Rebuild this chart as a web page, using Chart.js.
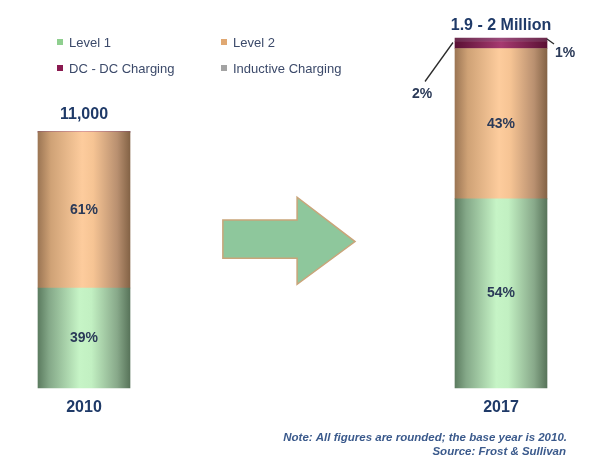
<!DOCTYPE html>
<html>
<head>
<meta charset="utf-8">
<script src="https://cdn.jsdelivr.net/npm/chart.js@4.4.1/dist/chart.umd.min.js"></script>
<style>
  html, body { margin: 0; padding: 0; background: #ffffff; }
  #wrap { width: 600px; height: 472px; position: relative; }
</style>
</head>
<body>
<div id="wrap"><canvas id="c" width="600" height="472"></canvas></div>
<script>
// ---- data ----
const categories = ['2010', '2017'];
const seriesNames = ['Level 1', 'Level 2', 'DC - DC Charging', 'Inductive Charging'];
const share2010 = [39, 61, 0, 0];
const share2017 = [54, 43, 2, 1];
const totalLabels = ['11,000', '1.9 - 2 Million'];
const footnotes = ['Note: All figures are rounded; the base year is 2010.', 'Source: Frost & Sullivan'];

// ---- styles ----
const FONT = '"Liberation Sans", Arial, Helvetica, sans-serif';
const legendColors = ['#8fcf8f', '#e0a872', '#8a1a50', '#a3a3a3'];
const gradStops = [
  [[0, '#5c7c60'], [0.12, '#84a888'], [0.45, '#c6f4c6'], [0.58, '#c2f0c2'], [0.86, '#88a98a'], [1, '#58745a']],
  [[0, '#9c7654'], [0.14, '#cfa276'], [0.48, '#fdcc9d'], [0.6, '#f6c494'], [0.86, '#b99070'], [1, '#846346']],
  [[0, '#5a1034'], [0.5, '#a63a70'], [1, '#5a1034']],
  [[0, '#6a2a4c'], [0.5, '#9a4a7a'], [1, '#6a2a4c']]
];
const BAR_W = 92;

function colorFor(i) {
  return function (c) {
    if (c.type !== 'data') return legendColors[i];
    const xs = c.chart.scales.x;
    if (!xs) return legendColors[i];
    const cx = xs.getPixelForValue(c.dataIndex);
    if (!isFinite(cx)) return legendColors[i];
    const g = c.chart.ctx.createLinearGradient(cx - BAR_W / 2, 0, cx + BAR_W / 2, 0);
    gradStops[i].forEach(s => g.addColorStop(s[0], s[1]));
    return g;
  };
}

const datasets = [];
seriesNames.forEach((name, i) => {
  datasets.push({
    label: name, data: [share2010[i], null], yAxisID: 'y2010', stack: 's',
    backgroundColor: colorFor(i), borderWidth: 0, barThickness: BAR_W, clip: false, seriesIndex: i, year: 0
  });
});
seriesNames.forEach((name, i) => {
  datasets.push({
    label: name, data: [null, share2017[i]], yAxisID: 'y', stack: 's',
    backgroundColor: colorFor(i), borderWidth: 0, barThickness: BAR_W, clip: false, seriesIndex: i, year: 1
  });
});

const decorPlugin = {
  id: 'decor',
  beforeDatasetsDraw(chart) {
    const ctx = chart.ctx;
    const xs = chart.scales.x;
    const ca = chart.chartArea;
    const x0 = xs.getPixelForValue(0), x1 = xs.getPixelForValue(1);
    const span = x1 - x0, h = ca.bottom - ca.top;
    const X = f => x0 + span * f, Y = f => ca.top + h * f;
    // arrow
    ctx.save();
    ctx.beginPath();
    ctx.moveTo(X(0.333), Y(0.52));
    ctx.lineTo(X(0.511), Y(0.52));
    ctx.lineTo(X(0.511), Y(0.455));
    ctx.lineTo(X(0.65), Y(0.582));
    ctx.lineTo(X(0.511), Y(0.704));
    ctx.lineTo(X(0.511), Y(0.63));
    ctx.lineTo(X(0.333), Y(0.63));
    ctx.closePath();
    ctx.fillStyle = '#8ec79c';
    ctx.fill();
    ctx.lineWidth = 1.5;
    ctx.strokeStyle = '#c9a57a';
    ctx.stroke();
    ctx.restore();
  },
  afterDatasetsDraw(chart) {
    const ctx = chart.ctx;
    ctx.save();
    // segment labels
    ctx.textAlign = 'center';
    ctx.textBaseline = 'middle';
    ctx.font = 'bold 14px ' + FONT;
    ctx.fillStyle = '#2b3a58';
    chart.data.datasets.forEach((ds, d) => {
      const meta = chart.getDatasetMeta(d);
      meta.data.forEach((el, j) => {
        const v = ds.data[j];
        if (v == null || v === 0) return;
        const top = Math.min(el.y, el.base), bot = Math.max(el.y, el.base);
        if (v >= 5) {
          ctx.fillText(v + '%', el.x, (top + bot) / 2);
        } else {
          const left = el.x - el.width / 2, right = el.x + el.width / 2;
          ctx.strokeStyle = '#2b2b2b';
          ctx.lineWidth = 1.3;
          ctx.beginPath();
          if (ds.seriesIndex === 2) {
            ctx.moveTo(left - 2, top + 1);
            ctx.lineTo(left - 30, top + 40);
            ctx.stroke();
            ctx.fillText(v + '%', left - 33, top + 53);
          } else {
            ctx.moveTo(right, top + 1);
            ctx.lineTo(right + 7, top + 6);
            ctx.stroke();
            ctx.fillText(v + '%', right + 18, top + 15);
          }
        }
      });
    });
    // totals above bars
    ctx.font = 'bold 16px ' + FONT;
    ctx.fillStyle = '#1f3a68';
    const xs = chart.scales.x;
    [0, 1].forEach(j => {
      let top = Infinity;
      chart.data.datasets.forEach((ds, d) => {
        const el = chart.getDatasetMeta(d).data[j];
        if (ds.data[j] != null && el) top = Math.min(top, el.y);
      });
      ctx.fillText(totalLabels[j], xs.getPixelForValue(j), top - (j === 0 ? 17 : 12));
    });
    // legend (2 x 2)
    ctx.textAlign = 'left';
    ctx.font = '13px ' + FONT;
    seriesNames.forEach((name, i) => {
      const lx = 57 + (i % 2) * 164, ly = 42 + Math.floor(i / 2) * 26;
      ctx.fillStyle = legendColors[i];
      ctx.fillRect(lx, ly - 3, 6, 6);
      ctx.fillStyle = '#3c4a6a';
      ctx.fillText(name, lx + 12, ly + 1);
    });
    // footnotes
    ctx.textAlign = 'right';
    ctx.font = 'italic bold 11.5px ' + FONT;
    ctx.fillStyle = '#3b5a8c';
    ctx.fillText(footnotes[0], 567, 438);
    ctx.fillText(footnotes[1], 566, 452);
    ctx.restore();
  }
};

new Chart(document.getElementById('c'), {
  type: 'bar',
  data: { labels: categories, datasets: datasets },
  options: {
    responsive: false,
    devicePixelRatio: 1,
    animation: false,
    layout: { padding: { left: 84, right: 99, top: 38, bottom: 45 } },
    plugins: { legend: { display: false }, tooltip: { enabled: false } },
    scales: {
      x: {
        type: 'category', offset: false, stacked: true,
        grid: { display: false, drawTicks: false }, border: { display: false },
        ticks: { padding: 10, color: '#1f3a68', font: { family: FONT, size: 16, weight: 'bold' } }
      },
      y: { display: false, stacked: true, min: 0, max: 100 },
      y2010: { display: false, stacked: true, min: 0, max: 136.7 }
    }
  },
  plugins: [decorPlugin]
});
</script>
</body>
</html>
